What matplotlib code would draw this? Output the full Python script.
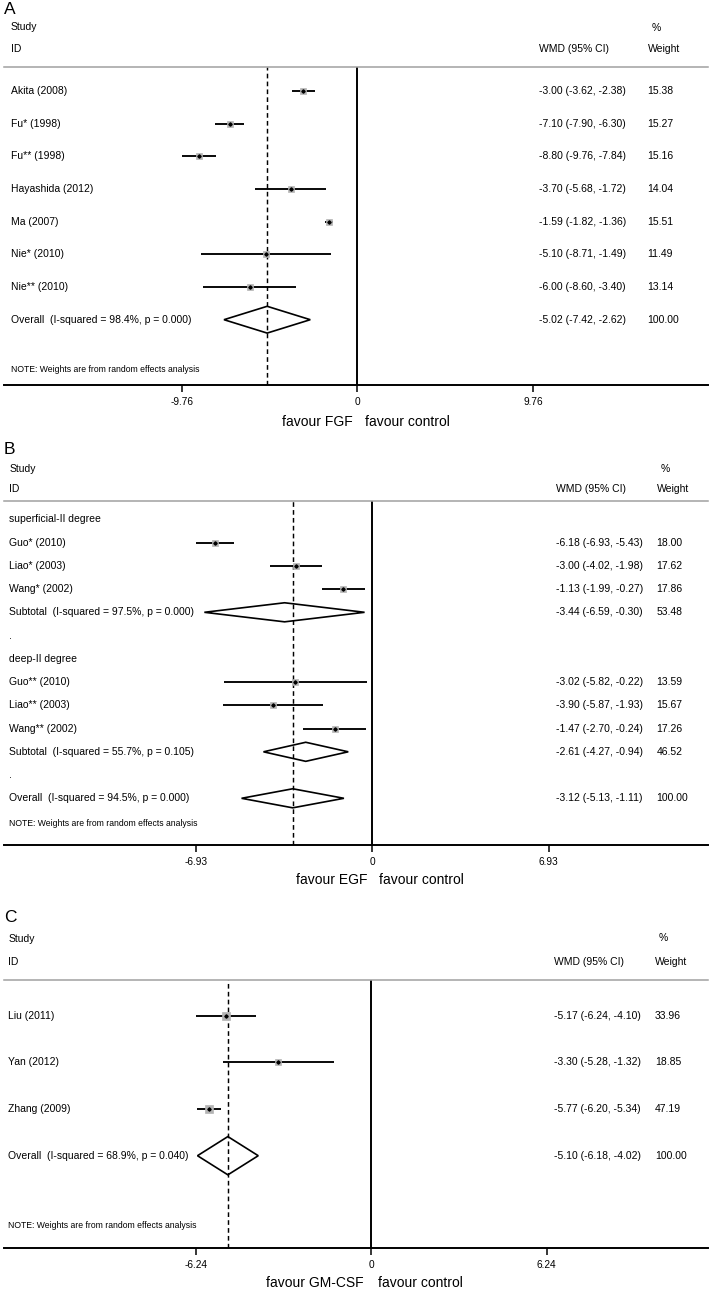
import matplotlib
matplotlib.use("Agg")
import matplotlib.pyplot as plt
from matplotlib import transforms
from matplotlib.patches import Polygon

plt.rcParams['font.family'] = ['Liberation Sans', 'DejaVu Sans']

# ---------------- data ----------------
A_labels = ["Akita (2008)", "Fu* (1998)", "Fu** (1998)", "Hayashida (2012)",
            "Ma (2007)", "Nie* (2010)", "Nie** (2010)"]
A_est = [-3.00, -7.10, -8.80, -3.70, -1.59, -5.10, -6.00]
A_lo = [-3.62, -7.90, -9.76, -5.68, -1.82, -8.71, -8.60]
A_hi = [-2.38, -6.30, -7.84, -1.72, -1.36, -1.49, -3.40]
A_w = [15.38, 15.27, 15.16, 14.04, 15.51, 11.49, 13.14]
A_overall = [-5.02, -7.42, -2.62, 100.00]
A_overall_label = "Overall  (I-squared = 98.4%, p = 0.000)"
A_tick = 9.76
A_xlabel = ["favour FGF", "favour control"]

B1_group = "superficial-II degree"
B1_labels = ["Guo* (2010)", "Liao* (2003)", "Wang* (2002)"]
B1_est = [-6.18, -3.00, -1.13]
B1_lo = [-6.93, -4.02, -1.99]
B1_hi = [-5.43, -1.98, -0.27]
B1_w = [18.00, 17.62, 17.86]
B1_sub = [-3.44, -6.59, -0.30, 53.48]
B1_sub_label = "Subtotal  (I-squared = 97.5%, p = 0.000)"
B2_group = "deep-II degree"
B2_labels = ["Guo** (2010)", "Liao** (2003)", "Wang** (2002)"]
B2_est = [-3.02, -3.90, -1.47]
B2_lo = [-5.82, -5.87, -2.70]
B2_hi = [-0.22, -1.93, -0.24]
B2_w = [13.59, 15.67, 17.26]
B2_sub = [-2.61, -4.27, -0.94, 46.52]
B2_sub_label = "Subtotal  (I-squared = 55.7%, p = 0.105)"
B_overall = [-3.12, -5.13, -1.11, 100.00]
B_overall_label = "Overall  (I-squared = 94.5%, p = 0.000)"
B_tick = 6.93
B_xlabel = ["favour EGF", "favour control"]

C_labels = ["Liu (2011)", "Yan (2012)", "Zhang (2009)"]
C_est = [-5.17, -3.30, -5.77]
C_lo = [-6.24, -5.28, -6.20]
C_hi = [-4.10, -1.32, -5.34]
C_w = [33.96, 18.85, 47.19]
C_overall = [-5.10, -6.18, -4.02, 100.00]
C_overall_label = "Overall  (I-squared = 68.9%, p = 0.040)"
C_tick = 6.24
C_xlabel = ["favour GM-CSF", "favour control"]

NOTE = "NOTE: Weights are from random effects analysis"

# ---------------- layout (pixels) ----------------
W, H = 709, 1290
fig = plt.figure(figsize=(W / 100, H / 100), dpi=100)
fig.patch.set_facecolor('white')

FS = 7.5
L_PX, R_PX = 4, 708


def fx(x):
    return x / W


def fy(y):
    return 1 - y / H


def ci_text(e, lo, hi):
    return f"{e:.2f} ({lo:.2f}, {hi:.2f})"


def make_panel(letter, cfg, rows, overall, tick):
    zero = cfg['zero']
    s = cfg['scale']
    ytop, ybot = cfg['header'], cfg['axis']
    y0, sp = cfg['y0'], cfg['sp']
    ax = fig.add_axes([fx(L_PX), fy(ybot), (R_PX - L_PX) / W, (ybot - ytop) / H])
    ax.set_xlim((L_PX - zero) / s, (R_PX - zero) / s)
    ax.set_ylim((ybot - y0) / sp, (ytop - y0) / sp)
    ax.patch.set_alpha(0)
    for side in ['left', 'right']:
        ax.spines[side].set_visible(False)
    ax.spines['top'].set_color('#a0a0a0')
    ax.spines['top'].set_linewidth(1.1)
    ax.spines['bottom'].set_linewidth(1.4)
    ax.set_yticks([])
    ax.set_xticks([-tick, 0, tick])
    ax.set_xticklabels([f"{-tick:.2f}", "0", f"{tick:.2f}"])
    ax.tick_params(axis='x', length=5, width=1.1, pad=3.5, labelsize=7.3)

    blend = transforms.blended_transform_factory(fig.transFigure, ax.transData)

    ax.axvline(0, color='black', lw=1.4, zorder=1)
    ax.axvline(overall[0], color='black', lw=1.05, ls=(0, (3.2, 2.2)), zorder=1)

    for r in rows:
        i = r['i']
        kind = r['kind']
        if kind in ('study', 'sub', 'overall', 'group', 'dot'):
            txt = r['label']
            ax.text(fx(cfg['label_x']), i, txt, transform=blend, ha='left',
                    va='center', fontsize=FS, clip_on=False)
        if kind == 'study':
            e, lo, hi, w = r['vals']
            ax.plot([lo, hi], [i, i], color='black', lw=1.35, zorder=2,
                    solid_capstyle='butt')
            side_px = 4.0 + 0.55 * w ** 0.5
            ax.plot([e], [i], marker='s', ms=side_px * 0.72, color='#b4b4b4',
                    mec='#b4b4b4', mew=0.5, zorder=3)
            ax.plot([e], [i], marker='D', ms=1.7, color='black', zorder=4)
        if kind in ('sub', 'overall'):
            e, lo, hi, w = r['vals']
            h = 0.41
            poly = Polygon([[lo, i], [e, i - h], [hi, i], [e, i + h]], closed=True,
                           fill=False, edgecolor='black', lw=1.2, zorder=3,
                           joinstyle='miter')
            ax.add_patch(poly)
        if kind in ('study', 'sub', 'overall'):
            e, lo, hi, w = r['vals']
            ax.text(fx(cfg['wmd_x']), i, ci_text(e, lo, hi), transform=blend,
                    ha='left', va='center', fontsize=FS, clip_on=False)
            ax.text(fx(cfg['wt_x']), i, f"{w:.2f}", transform=blend,
                    ha='left', va='center', fontsize=FS, clip_on=False)

    ax.text(fx(cfg['label_x']), cfg['note_i'], NOTE, transform=blend, ha='left',
            va='center', fontsize=6.2, clip_on=False)

    # headers
    fig.text(fx(4), fy(cfg['letter_y']), letter, ha='left', va='center', fontsize=12.5)
    fig.text(fx(cfg['label_x']), fy(cfg['study_y']), "Study", ha='left', va='center', fontsize=FS)
    fig.text(fx(cfg['label_x']), fy(cfg['id_y']), "ID", ha='left', va='center', fontsize=FS)
    fig.text(fx(cfg['wt_x'] + 4), fy(cfg['pct_y']), "%", ha='left', va='center', fontsize=FS)
    fig.text(fx(cfg['wmd_x']), fy(cfg['id_y']), "WMD (95% CI)", ha='left', va='center', fontsize=FS)
    fig.text(fx(cfg['wt_x']), fy(cfg['id_y']), "Weight", ha='left', va='center', fontsize=FS)
    fig.text(fx(cfg['favL']), fy(cfg['fav_y']), cfg['xlabel'][0], ha='right', va='center', fontsize=10)
    fig.text(fx(cfg['favR']), fy(cfg['fav_y']), cfg['xlabel'][1], ha='left', va='center', fontsize=10)
    return ax


# ---------- Panel A ----------
cfgA = dict(zero=357.4, scale=(532.7 - 181.7) / (2 * A_tick), header=66.7, axis=385,
            y0=91, sp=32.67, label_x=11, wmd_x=539, wt_x=647.7, letter_y=10,
            study_y=26.7, id_y=49.3, pct_y=28, fav_y=421.7, favL=352.7, favR=365,
            note_i=(369 - 91) / 32.67, xlabel=A_xlabel)
rowsA = []
for k in range(len(A_labels)):
    rowsA.append(dict(i=k, kind='study', label=A_labels[k],
                      vals=(A_est[k], A_lo[k], A_hi[k], A_w[k])))
rowsA.append(dict(i=len(A_labels), kind='overall', label=A_overall_label, vals=tuple(A_overall)))
make_panel("A", cfgA, rowsA, A_overall, A_tick)

# ---------- Panel B ----------
cfgB = dict(zero=372.2, scale=(548.7 - 195.7) / (2 * B_tick), header=501, axis=845,
            y0=519.3, sp=23.25, label_x=9.3, wmd_x=556, wt_x=656.7, letter_y=450,
            study_y=469, id_y=489.3, pct_y=469, fav_y=880, favL=368, favR=379,
            note_i=(823.3 - 519.3) / 23.25, xlabel=B_xlabel)
rowsB = [dict(i=0, kind='group', label=B1_group)]
for k in range(len(B1_labels)):
    rowsB.append(dict(i=1 + k, kind='study', label=B1_labels[k],
                      vals=(B1_est[k], B1_lo[k], B1_hi[k], B1_w[k])))
rowsB.append(dict(i=4, kind='sub', label=B1_sub_label, vals=tuple(B1_sub)))
rowsB.append(dict(i=5, kind='dot', label="."))
rowsB.append(dict(i=6, kind='group', label=B2_group))
for k in range(len(B2_labels)):
    rowsB.append(dict(i=7 + k, kind='study', label=B2_labels[k],
                      vals=(B2_est[k], B2_lo[k], B2_hi[k], B2_w[k])))
rowsB.append(dict(i=10, kind='sub', label=B2_sub_label, vals=tuple(B2_sub)))
rowsB.append(dict(i=11, kind='dot', label="."))
rowsB.append(dict(i=12, kind='overall', label=B_overall_label, vals=tuple(B_overall)))
make_panel("B", cfgB, rowsB, B_overall, B_tick)

# ---------- Panel C ----------
cfgC = dict(zero=371.3, scale=(546.7 - 195.7) / (2 * C_tick), header=980, axis=1248,
            y0=1015.7, sp=46.67, label_x=8.3, wmd_x=554, wt_x=655, letter_y=918,
            study_y=939, id_y=961.7, pct_y=938.3, fav_y=1282.7, favL=363.3, favR=378,
            note_i=(1226 - 1015.7) / 46.67, xlabel=C_xlabel)
rowsC = []
for k in range(len(C_labels)):
    rowsC.append(dict(i=k, kind='study', label=C_labels[k],
                      vals=(C_est[k], C_lo[k], C_hi[k], C_w[k])))
rowsC.append(dict(i=len(C_labels), kind='overall', label=C_overall_label, vals=tuple(C_overall)))
make_panel("C", cfgC, rowsC, C_overall, C_tick)

fig.savefig("out.png", dpi=100, facecolor='white')
